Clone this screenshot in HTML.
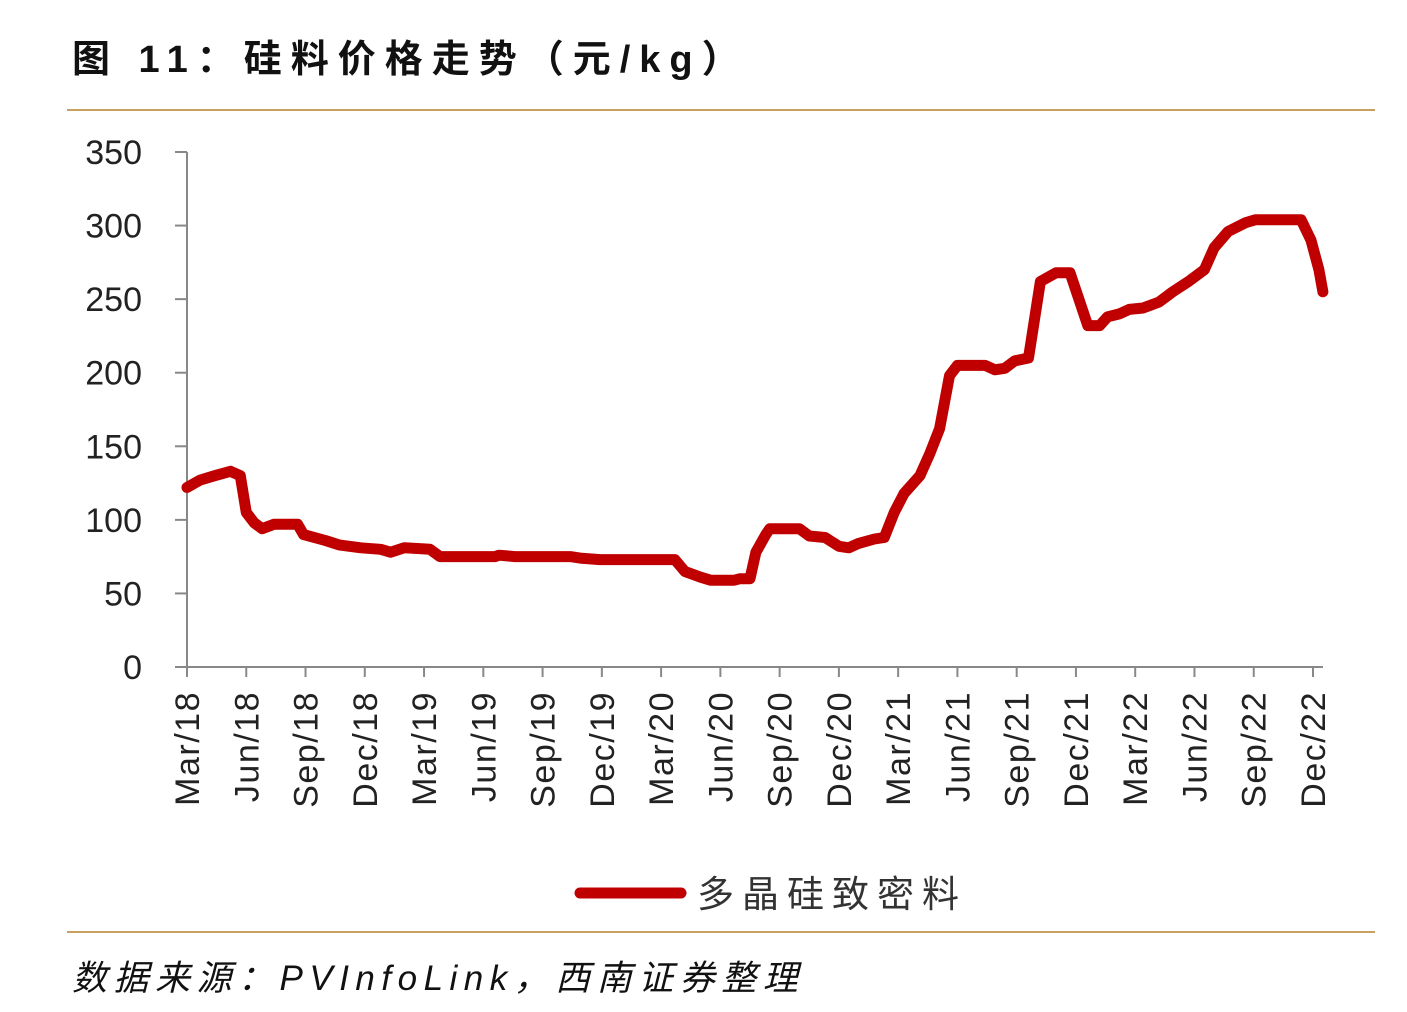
<!DOCTYPE html>
<html><head><meta charset="utf-8"><style>
body{margin:0;background:#fff;width:1407px;height:1007px;overflow:hidden;font-family:"Liberation Sans","Noto Sans CJK SC",sans-serif}
</style></head><body>
<svg width="1407" height="1007">
<text x="72" y="72" font-size="38" font-weight="bold" letter-spacing="9" fill="#111" font-family="Liberation Sans,Noto Sans CJK SC,sans-serif">图 11：硅料价格走势（元/kg）</text>
<line x1="67" y1="110" x2="1375" y2="110" stroke="#c8a060" stroke-width="2"/>
<g id="axes"></g>
<g id="plot"></g>
<line x1="580" y1="893" x2="681" y2="893" stroke="#c00000" stroke-width="11" stroke-linecap="round"/>
<text x="697" y="907" font-size="37" letter-spacing="8" fill="#333" font-family="Liberation Sans,Noto Sans CJK SC,sans-serif">多晶硅致密料</text>
<line x1="67" y1="932" x2="1375" y2="932" stroke="#c8a060" stroke-width="2"/>
<text x="72" y="990" font-size="35" font-style="italic" letter-spacing="6.5" fill="#111" font-family="Liberation Sans,Noto Sans CJK SC,sans-serif">数据来源：PVInfoLink，西南证券整理</text>
</svg>
<script>
const yTicks=[0,50,100,150,200,250,300,350];
const xLabels=["Mar/18","Jun/18","Sep/18","Dec/18","Mar/19","Jun/19","Sep/19","Dec/19","Mar/20","Jun/20","Sep/20","Dec/20","Mar/21","Jun/21","Sep/21","Dec/21","Mar/22","Jun/22","Sep/22","Dec/22"];
const months=[0,0.66,1.4,2.2,2.7,3.0,3.4,3.8,4.4,5.6,5.9,7,7.7,8.8,9.8,10.3,11,12.3,12.8,13.8,15.6,15.8,16.6,19.4,19.9,20.9,24.7,25.2,26,26.5,27.7,28,28.5,28.8,29.3,29.5,31,31.5,32.3,33,33.5,34,34.8,35.3,35.8,36.3,37.1,37.6,38.1,38.6,39,40.4,40.9,41.4,41.9,42.6,43.2,44,44.7,45.6,46.2,46.6,47.2,47.7,48.4,49.2,49.9,50.7,51.5,52,52.7,53.6,54.1,56.4,56.9,57.3,57.5];
const price=[122,127,130,133,130,105,98,94,97,97,90,86,83,81,80,78,81,80,75,75,75,76,75,75,74,73,73,65,61,59,59,60,60,78,90,94,94,89,88,82,81,84,87,88,105,118,130,145,162,198,205,205,202,203,208,210,262,268,268,232,232,238,240,243,244,248,255,262,270,285,296,302,304,304,290,270,255];
const NS="http://www.w3.org/2000/svg";
const x0=187,mw=(1313-187)/57,y0=667,yMax=152;
const X=m=>x0+m*mw, Y=v=>y0-(v/350)*(y0-yMax);
const axes=document.getElementById('axes'),plot=document.getElementById('plot');
function mk(t,a,p){const e=document.createElementNS(NS,t);for(const k in a)e.setAttribute(k,a[k]);p.appendChild(e);return e;}
const ya=mk('line',{x1:x0,y1:Y(350),x2:x0,y2:y0,stroke:'#888','stroke-width':2},axes);


const xa=mk('line',{x1:x0,y1:y0,x2:1323,y2:y0,stroke:'#888','stroke-width':2},axes);


yTicks.forEach(v=>{
 mk('line',{x1:x0-12,y1:Y(v),x2:x0,y2:Y(v),stroke:'#888','stroke-width':2},axes);
 const t=mk('text',{x:142,y:Y(v)+12,'text-anchor':'end','font-size':34,fill:'#222'},axes);
 t.textContent=v;
 
 
});
xLabels.forEach((l,i)=>{
 const x=X(i*3);
 mk('line',{x1:x,y1:y0,x2:x,y2:y0+10,stroke:'#888','stroke-width':2},axes);
 const t=mk('text',{x:0,y:0,'text-anchor':'end','font-size':34,'letter-spacing':1.5,fill:'#222',transform:`translate(${x+12},${y0+24}) rotate(-90)`},axes);
 t.textContent=l;
 
 
});
const d=months.map((m,i)=>(i?'L':'M')+X(m).toFixed(1)+','+Y(price[i]).toFixed(1)).join(' ');
const p=mk('path',{d:d,fill:'none',stroke:'#c00000','stroke-width':11,'stroke-linejoin':'round','stroke-linecap':'round'},plot);


</script>
</body></html>
